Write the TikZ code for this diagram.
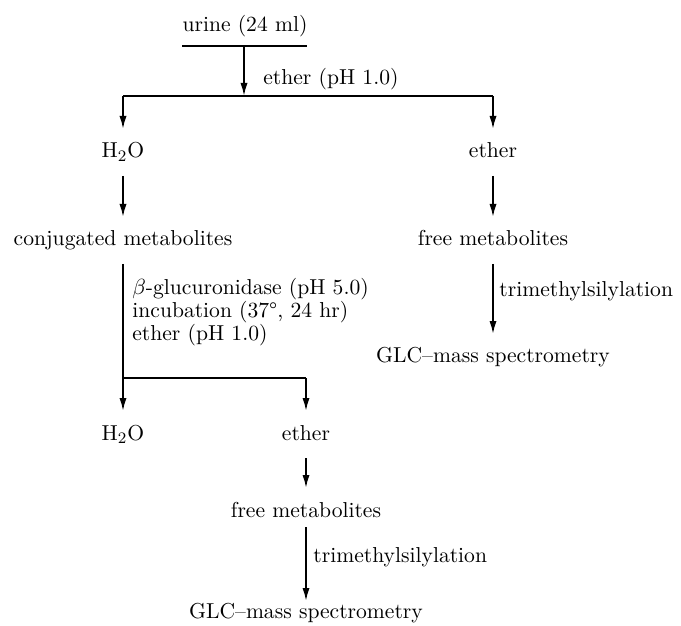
\documentclass[tikz,border=0pt]{standalone}
\usepackage{tikz}
\usetikzlibrary{arrows.meta,positioning,calc}

\tikzset{
  stage/.style={font=\fontsize{10.8}{12}\selectfont, inner sep=0pt, outer sep=7pt,
    text height=7.5pt, text depth=2pt, anchor=base},
  steplbl/.style={font=\fontsize{10.8}{11.5}\selectfont, inner sep=0pt, align=left},
  rule/.style={line width=0.9pt},
  flow/.style={rule, -{Latex[length=6.5pt,width=3.6pt]}},
}

\begin{document}
\begin{tikzpicture}[x=0.5pt,y=-0.5pt]
  \useasboundingbox (0,0) rectangle (681,626);

  % sample and first extraction
  \node[stage] (urine) at (245,32) {urine (24 ml)};
  \coordinate (barL) at (182,46);
  \coordinate (barR) at (307,46);
  \coordinate (barM) at (244,46);
  \coordinate (split) at (244,96);
  \coordinate (splitL) at (123,96);
  \coordinate (splitR) at (493,96);
  \draw[rule] (barL) -- (barR);
  \draw[flow] (barM) -- (split);
  \node[steplbl, anchor=base west] (extA) at (263,85) {ether (pH 1.0)};
  \draw[rule] (splitL) -- (splitR);

  % aqueous phase
  \node[stage] (waterA) at (123,158) {H$_2$O};
  \node[stage] (conj) at (123,246) {conjugated metabolites};
  \draw[flow] (splitL) -- (waterA);
  \draw[flow] (waterA) -- (conj);

  % ether phase
  \node[stage] (etherA) at (493,158) {ether};
  \node[stage] (freeA) at (493,246) {free metabolites};
  \node[stage] (gcmsA) at (493,363) {GLC--mass spectrometry};
  \draw[flow] (splitR) -- (etherA);
  \draw[flow] (etherA) -- (freeA);
  \draw[flow] (freeA) -- (gcmsA);
  \node[steplbl, anchor=base west] (silA) at (499,297) {trimethylsilylation};

  % hydrolysis of the conjugates
  \coordinate (split2L) at (123,378);
  \coordinate (split2R) at (306,378);
  \draw[rule] (conj) -- (split2L) -- (split2R);
  \node[steplbl, anchor=north west] (hydro) at (132,278)
    {$\beta$-glucuronidase (pH 5.0)\\
     incubation (37\textdegree, 24 hr)\\
     ether (pH 1.0)};

  \node[stage] (waterB) at (123,440) {H$_2$O};
  \node[stage] (etherB) at (306,440) {ether};
  \node[stage] (freeB) at (306,517) {free metabolites};
  \node[stage] (gcmsB) at (306,618) {GLC--mass spectrometry};
  \draw[flow] (split2L) -- (waterB);
  \draw[flow] (split2R) -- (etherB);
  \draw[flow] (etherB) -- (freeB);
  \draw[flow, shorten <=-4pt, shorten >=-6pt] (freeB) -- (gcmsB);
  \node[steplbl, anchor=base west] (silB) at (313,562) {trimethylsilylation};
\end{tikzpicture}
\end{document}
